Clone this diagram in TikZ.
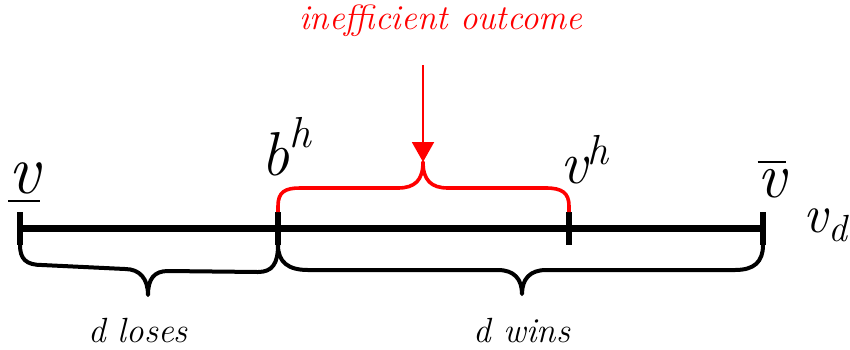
\documentclass[tikz,border=0pt]{standalone}
\usepackage{amsmath}
\usepackage{tikz}
\usetikzlibrary{arrows.meta,calc}
\usepackage{xcolor}
\definecolor{ink}{HTML}{000000}
\definecolor{red1}{HTML}{FF0000}

\tikzset{
  axisline/.style={ink, line width=3.5pt},
  tickmark/.style={ink, line width=3pt},
  bracered/.style={red1, line width=1.8pt, line join=round},
  braceblack/.style={ink, line width=2pt, line join=round},
  vlabel/.style={inner sep=0pt, anchor=base, font=\fontsize{31}{33}\selectfont},
  wlabel/.style={inner sep=0pt, font=\itshape\fontsize{17.5}{20}\selectfont},
}

\begin{document}
\begin{tikzpicture}[x=0.5pt,y=-0.5pt]
  \useasboundingbox (0,0) rectangle (850,349);
  % points on the axis
  \coordinate (lo) at (20,228); \coordinate (bh) at (278,228);
  \coordinate (vh) at (569,228); \coordinate (hi) at (763,228);
  \draw[axisline] (lo) -- (hi);
  \foreach \p in {lo,bh,vh,hi} \draw[tickmark] ($(\p)+(0,-16)$) -- ($(\p)+(0,17)$);
  % labels
  \node[vlabel, font=\fontsize{35}{37}\selectfont] (lab-lo) at (24,193) {$\underline{\textit{v}}$};
  \node[vlabel] (lab-bh) at (287,175) {$\textit{b}^{\textit{h}}$};
  \node[vlabel, font=\fontsize{30}{32}\selectfont] (lab-vh) at (585,183) {$\textit{v}^{\textit{h}}$};
  \node[vlabel, font=\fontsize{32}{34}\selectfont] (lab-hi) at (772,197) {$\overline{\textit{v}}$};
  \node[vlabel, font=\fontsize{27}{29}\selectfont] (lab-vd) at (826,232) {$\textit{v}_{\textit{d}}$};
  % red brace and arrow
  \coordinate (cusp) at (423,162);
  \draw[bracered] ($(bh)+(0,-16)$) -- (278,206) .. controls (278,192) and (285,188) .. (300,188) -- (398,188)
    .. controls (415,188) and (423,180) .. (cusp) .. controls (423,180) and (431,188) .. (448,188) -- (546,188)
    .. controls (562,188) and (569,193) .. (569,206) -- ($(vh)+(0,-16)$);
  \node[wlabel, red1] (ineff) at (441,21) {inefficient outcome};
  \draw[red1, line width=1pt, -{Triangle[length=10pt,width=11pt]}] (423,65) -- (cusp);
  % lower braces
  \draw[braceblack] ($(lo)+(0,17)$) .. controls (20,259) and (26,265) .. (42,265) -- (125,269)
    .. controls (140,269) and (148,279) .. (148,295) .. controls (148,279) and (154,271) .. (168,271) -- (258,272)
    .. controls (272,272) and (278,264) .. ($(bh)+(0,17)$);
  \draw[braceblack] ($(bh)+(0,17)$) .. controls (278,262) and (288,270) .. (308,270) -- (498,270)
    .. controls (514,270) and (522,279) .. (522,294) .. controls (522,279) and (530,270) .. (546,270) -- (735,270)
    .. controls (754,270) and (763,262) .. ($(hi)+(0,17)$);
  \node[wlabel] (loses) at (138,331) {d loses};
  \node[wlabel] (wins) at (522,331) {d wins};
\end{tikzpicture}
\end{document}
